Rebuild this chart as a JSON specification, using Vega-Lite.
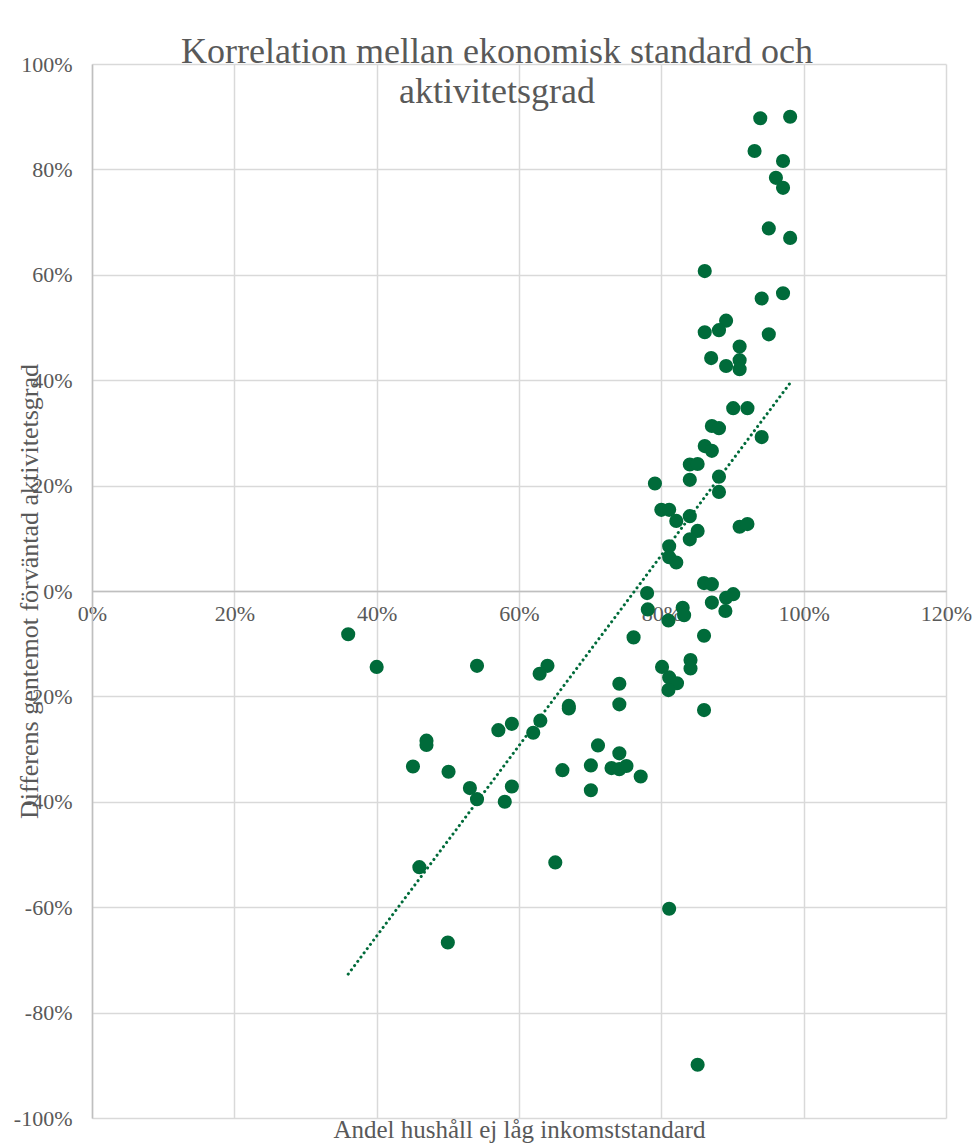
{
  "$schema": "https://vega.github.io/schema/vega-lite/v6.json",
  "width": 854,
  "height": 1054,
  "autosize": {"type": "none"},
  "padding": {"left": 92, "top": 64, "right": 32, "bottom": 26},
  "background": "white",
  "title": {
    "text": ["Korrelation mellan ekonomisk standard och", "aktivitetsgrad"],
    "font": "Liberation Serif",
    "fontSize": 36,
    "fontWeight": "normal",
    "color": "#595959",
    "anchor": "middle",
    "frame": "group",
    "baseline": "alphabetic",
    "lineHeight": 40,
    "offset": -86,
    "dx": -22
  },
  "datasets": {
    "points": [
      {"x": 93.9, "y": 89.7}, {"x": 98.1, "y": 90.0}, {"x": 93.1, "y": 83.5}, {"x": 97.1, "y": 81.6},
      {"x": 96.1, "y": 78.4}, {"x": 97.1, "y": 76.5}, {"x": 95.1, "y": 68.8}, {"x": 98.1, "y": 67.0},
      {"x": 86.1, "y": 60.7}, {"x": 97.1, "y": 56.5}, {"x": 94.1, "y": 55.5}, {"x": 89.1, "y": 51.3},
      {"x": 88.1, "y": 49.5}, {"x": 86.1, "y": 49.1}, {"x": 95.1, "y": 48.7}, {"x": 91.0, "y": 46.4},
      {"x": 87.0, "y": 44.2}, {"x": 89.1, "y": 42.7}, {"x": 91.0, "y": 43.8}, {"x": 91.0, "y": 42.1},
      {"x": 90.1, "y": 34.7}, {"x": 92.1, "y": 34.7}, {"x": 87.1, "y": 31.3}, {"x": 88.1, "y": 30.9},
      {"x": 94.1, "y": 29.2}, {"x": 86.1, "y": 27.5}, {"x": 87.1, "y": 26.6}, {"x": 84.0, "y": 24.0},
      {"x": 85.1, "y": 24.1}, {"x": 88.1, "y": 21.7}, {"x": 84.0, "y": 21.1}, {"x": 79.1, "y": 20.4},
      {"x": 88.1, "y": 18.8}, {"x": 80.0, "y": 15.4}, {"x": 81.1, "y": 15.4}, {"x": 84.0, "y": 14.2},
      {"x": 82.1, "y": 13.3}, {"x": 91.0, "y": 12.2}, {"x": 92.1, "y": 12.7}, {"x": 85.1, "y": 11.4},
      {"x": 84.0, "y": 9.8}, {"x": 81.1, "y": 8.5}, {"x": 81.1, "y": 6.4}, {"x": 82.1, "y": 5.4},
      {"x": 86.0, "y": 1.5}, {"x": 87.1, "y": 1.3}, {"x": 78.0, "y": -0.4}, {"x": 90.1, "y": -0.6},
      {"x": 89.1, "y": -1.3}, {"x": 87.1, "y": -2.2}, {"x": 78.1, "y": -3.5}, {"x": 83.0, "y": -3.2},
      {"x": 83.2, "y": -4.6}, {"x": 89.0, "y": -3.8}, {"x": 81.0, "y": -5.6}, {"x": 76.1, "y": -8.8},
      {"x": 86.0, "y": -8.5}, {"x": 84.1, "y": -13.1}, {"x": 84.1, "y": -14.7}, {"x": 80.1, "y": -14.4},
      {"x": 81.1, "y": -16.4}, {"x": 82.2, "y": -17.5}, {"x": 81.0, "y": -18.8}, {"x": 74.1, "y": -17.6},
      {"x": 74.1, "y": -21.5}, {"x": 86.0, "y": -22.6}, {"x": 36.0, "y": -8.2}, {"x": 40.0, "y": -14.4},
      {"x": 54.1, "y": -14.2}, {"x": 64.0, "y": -14.2}, {"x": 62.9, "y": -15.7}, {"x": 67.0, "y": -21.8},
      {"x": 67.0, "y": -22.3}, {"x": 59.0, "y": -25.2}, {"x": 57.1, "y": -26.4}, {"x": 63.0, "y": -24.6},
      {"x": 62.0, "y": -26.9}, {"x": 47.0, "y": -28.4}, {"x": 47.0, "y": -29.2}, {"x": 45.1, "y": -33.3},
      {"x": 50.1, "y": -34.3}, {"x": 53.1, "y": -37.4}, {"x": 54.1, "y": -39.5}, {"x": 59.0, "y": -37.1},
      {"x": 58.0, "y": -40.0}, {"x": 66.1, "y": -34.0}, {"x": 71.1, "y": -29.3}, {"x": 70.1, "y": -33.1},
      {"x": 70.1, "y": -37.8}, {"x": 74.1, "y": -30.8}, {"x": 73.0, "y": -33.6}, {"x": 74.1, "y": -33.8},
      {"x": 75.1, "y": -33.2}, {"x": 77.1, "y": -35.2}, {"x": 46.0, "y": -52.4}, {"x": 65.1, "y": -51.5},
      {"x": 81.1, "y": -60.3}, {"x": 50.0, "y": -66.7}, {"x": 85.1, "y": -89.9}
    ],
    "trend": [
      {"x": 36.0, "y": -72.7},
      {"x": 98.0, "y": 39.3}
    ]
  },
  "layer": [
    {
      "data": {"name": "points"},
      "mark": {"type": "circle", "size": 200, "opacity": 1, "color": "#006B3A"},
      "encoding": {
        "x": {
          "field": "x",
          "type": "quantitative",
          "scale": {"domain": [0, 120], "nice": false, "zero": false},
          "axis": {
            "values": [0, 20, 40, 60, 80, 100, 120],
            "labelExpr": "datum.value + '%'",
            "title": "Andel hushåll ej låg inkomststandard",
            "offset": -527,
            "titleY": 546,
            "titleX": 427,
            "titleAlign": "center",
            "titleBaseline": "alphabetic",
            "titleFontSize": 25,
            "labelPadding": 12,
            "labelFlush": false,
            "labelOverlap": false,
            "labelBound": false,
            "ticks": false,
            "grid": true,
            "domain": true
          }
        },
        "y": {
          "field": "y",
          "type": "quantitative",
          "scale": {"domain": [-100, 100], "nice": false, "zero": false},
          "axis": {
            "values": [-100, -80, -60, -40, -20, 0, 20, 40, 60, 80, 100],
            "labelExpr": "datum.value + '%'",
            "title": "Differens gentemot förväntad aktivitetsgrad",
            "titleX": -55,
            "titleY": 527,
            "titleAngle": -90,
            "titleAlign": "center",
            "titleBaseline": "alphabetic",
            "titleFontSize": 26,
            "labelPadding": 20,
            "labelOverlap": false,
            "labelBound": false,
            "ticks": false,
            "grid": true,
            "domain": true
          }
        }
      }
    },
    {
      "data": {"name": "trend"},
      "mark": {"type": "line", "color": "#006B3A", "strokeWidth": 3, "strokeDash": [0.1, 5.2], "strokeCap": "round"},
      "encoding": {
        "x": {"field": "x", "type": "quantitative"},
        "y": {"field": "y", "type": "quantitative"}
      }
    }
  ],
  "config": {
    "view": {"stroke": null},
    "axis": {
      "labelFont": "Liberation Serif",
      "labelFontSize": 22,
      "labelColor": "#595959",
      "titleFont": "Liberation Serif",
      "titleFontWeight": "normal",
      "titleColor": "#595959",
      "gridColor": "#d9d9d9",
      "gridWidth": 1.5,
      "domainColor": "#bfbfbf",
      "domainWidth": 1.5
    }
  }
}
